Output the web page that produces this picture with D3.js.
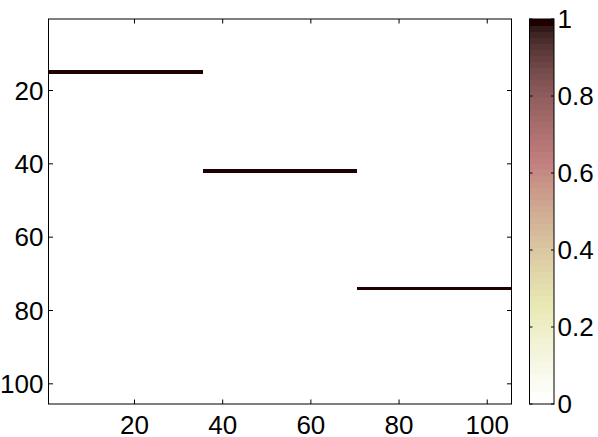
<!DOCTYPE html>
<html>
<head>
<meta charset="utf-8">
<script src="https://cdn.jsdelivr.net/npm/d3@7"></script>
<style>
  body { margin: 0; background: #fff; }
  text { font-family: "Liberation Sans", Arial, sans-serif; font-size: 26px; fill: #000; }
</style>
</head>
<body>
<div id="chart"></div>
<script>
// Matrix size and the three horizontal segments (value 1, everything else 0)
var nRows = 105;
var nCols = 105;
var segRows = [15, 42, 74];
var segStart = [1, 36, 71];
var segEnd = [35, 70, 105];
var segValue = [1, 1, 1];

var xTicks = [20, 40, 60, 80, 100];
var yTicks = [20, 40, 60, 80, 100];
var cbTicks = [0, 0.2, 0.4, 0.6, 0.8, 1];

var width = 598, height = 437;
var margin = {top: 19, left: 48.5, right: 86.5, bottom: 33};
var plotW = width - margin.left - margin.right;
var plotH = height - margin.top - margin.bottom;

var svg = d3.select('#chart')
  .append('svg')
    .attr('width', width)
    .attr('height', height);

// flipud(pink(64)) colormap like in matlab
var m = 64;
var nh = Math.floor(3 / 8 * m);
var pink = d3.range(m).map(function(i) {
  var g = i / (m - 1);
  var r = i < nh ? (i + 1) / nh : 1;
  var gg = i < nh ? 0 : (i < 2 * nh ? (i - nh + 1) / nh : 1);
  var b = i < 2 * nh ? 0 : (i - 2 * nh + 1) / (m - 2 * nh);
  return [Math.sqrt((2 * g + r) / 3), Math.sqrt((2 * g + gg) / 3), Math.sqrt((2 * g + b) / 3)];
}).reverse();
var cmap = pink.map(function(c) {
  return d3.rgb(c[0] * 255, c[1] * 255, c[2] * 255).toString();
});
var colorOf = function(v) {
  var idx = Math.min(m - 1, Math.max(0, Math.floor(v * m)));
  return cmap[idx];
};

// build the matrix
var cells = [];
for (var r = 1; r <= nRows; r++) {
  for (var c = 1; c <= nCols; c++) {
    cells.push({row: r, col: c, value: 0});
  }
}
segRows.forEach(function(row, k) {
  for (var c = segStart[k]; c <= segEnd[k]; c++) {
    cells[(row - 1) * nCols + (c - 1)].value = segValue[k];
  }
});

var x = d3.scaleLinear()
  .domain([0.5, nCols + 0.5])
  .range([margin.left, margin.left + plotW]);
var y = d3.scaleLinear()
  .domain([0.5, nRows + 0.5])
  .range([margin.top, margin.top + plotH]);

// image cells
svg.append('g')
  .attr('shape-rendering', 'crispEdges')
  .selectAll('rect')
  .data(cells)
  .enter().append('rect')
    .attr('x', d => x(d.col - 0.5))
    .attr('y', d => y(d.row - 0.5))
    .attr('width', d => x(d.col + 0.5) - x(d.col - 0.5) + 0.3)
    .attr('height', d => y(d.row + 0.5) - y(d.row - 0.5) + 0.3)
    .attr('fill', d => colorOf(d.value));

// axes (ticks inside, box on all sides)
var tickLen = 4.5;
var axisG = svg.append('g').attr('stroke', '#000').attr('stroke-width', 1);
axisG.append('rect')
  .attr('x', margin.left).attr('y', margin.top)
  .attr('width', plotW).attr('height', plotH)
  .attr('fill', 'none');

xTicks.forEach(function(t) {
  axisG.append('line')
    .attr('x1', x(t)).attr('x2', x(t))
    .attr('y1', margin.top + plotH).attr('y2', margin.top + plotH - tickLen);
  axisG.append('line')
    .attr('x1', x(t)).attr('x2', x(t))
    .attr('y1', margin.top).attr('y2', margin.top + tickLen);
  svg.append('text')
    .attr('x', x(t))
    .attr('y', 433.5)
    .attr('text-anchor', 'middle')
    .text(t);
});

yTicks.forEach(function(t) {
  axisG.append('line')
    .attr('x1', margin.left).attr('x2', margin.left + tickLen)
    .attr('y1', y(t)).attr('y2', y(t));
  axisG.append('line')
    .attr('x1', margin.left + plotW).attr('x2', margin.left + plotW - tickLen)
    .attr('y1', y(t)).attr('y2', y(t));
  svg.append('text')
    .attr('x', 43.5)
    .attr('y', y(t) + 9.3)
    .attr('text-anchor', 'end')
    .text(t);
});

// colorbar
var cbX = 529.5, cbW = 24.5;
var cy = d3.scaleLinear()
  .domain([0, 1])
  .range([margin.top + plotH, margin.top]);

svg.append('g')
  .attr('shape-rendering', 'crispEdges')
  .selectAll('rect')
  .data(cmap)
  .enter().append('rect')
    .attr('x', cbX)
    .attr('y', (d, i) => cy((i + 1) / m))
    .attr('width', cbW)
    .attr('height', (d, i) => cy(i / m) - cy((i + 1) / m) + 0.5)
    .attr('fill', d => d);

var cbG = svg.append('g').attr('stroke', '#000').attr('stroke-width', 1);
cbG.append('rect')
  .attr('x', cbX).attr('y', margin.top)
  .attr('width', cbW).attr('height', plotH)
  .attr('fill', 'none');

cbTicks.forEach(function(t) {
  cbG.append('line')
    .attr('x1', cbX).attr('x2', cbX + 3)
    .attr('y1', cy(t)).attr('y2', cy(t));
  cbG.append('line')
    .attr('x1', cbX + cbW).attr('x2', cbX + cbW - 3)
    .attr('y1', cy(t)).attr('y2', cy(t));
  svg.append('text')
    .attr('x', 557.5)
    .attr('y', cy(t) + 9.3)
    .text(t);
});
</script>
</body>
</html>
